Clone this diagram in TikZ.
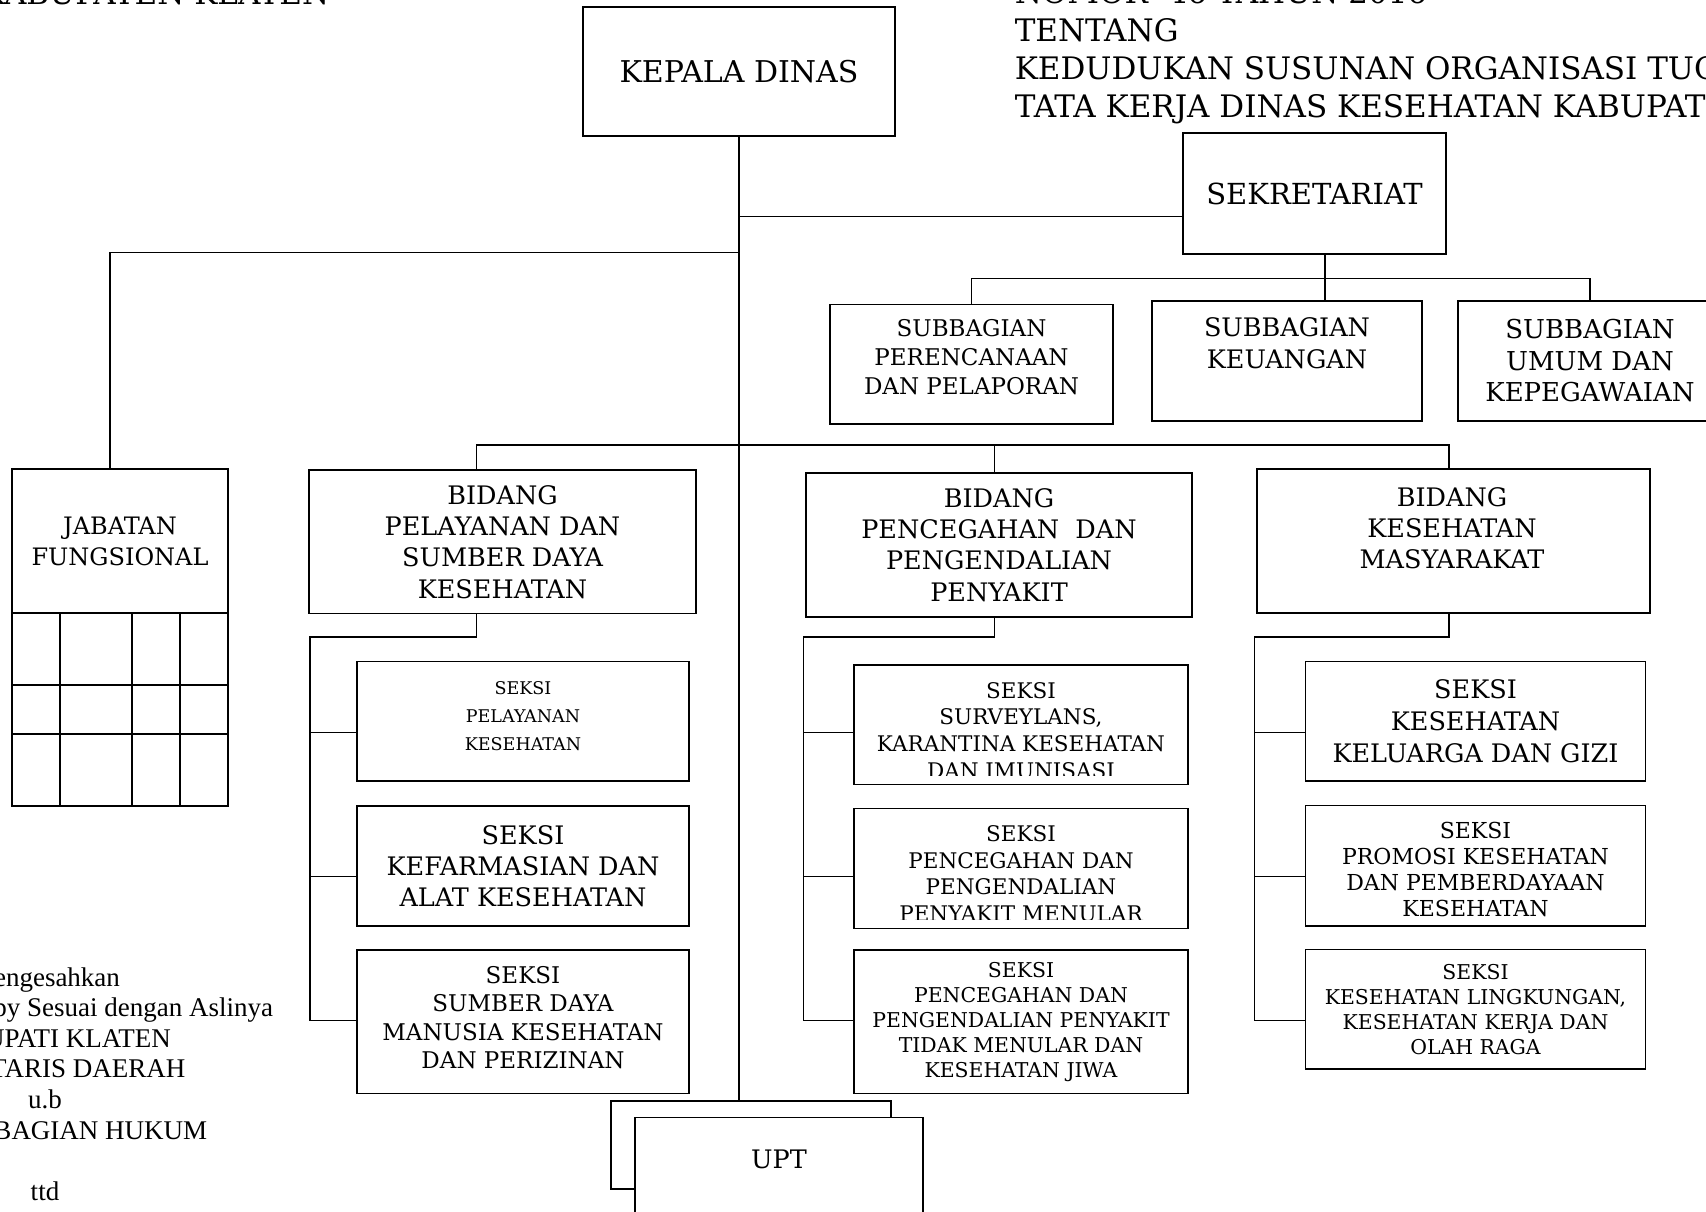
\documentclass[tikz,border=0pt]{standalone}
\usepackage{fontspec}
\setmainfont{DejaVu Serif}
\newfontfamily\notefont{Liberation Serif}
\begin{document}
\begin{tikzpicture}[x=1pt,y=-1pt,line width=1.6pt,
box/.style={draw,fill=white,inner sep=0pt,align=center},
txt/.style={inner sep=0pt,align=center},
hdr/.style={inner sep=0pt,anchor=base west,font=\fontsize{31}{38}\selectfont}]

\useasboundingbox (0,0) rectangle (1706,1211);
\clip (0,0) rectangle (1706,1211);

\node (hd1) at (330,4) [hdr,anchor=base east] {KABUPATEN KLATEN};
\node (hd2) at (1014,3) [hdr] {NOMOR \ 46 TAHUN 2016};
\node (hd3) at (1014,41) [hdr] {TENTANG};
\node (hd4) at (1014,79) [hdr] {KEDUDUKAN SUSUNAN ORGANISASI TUGAS DAN FUNGSI SERTA};
\node (hd5) at (1014,117) [hdr] {TATA KERJA DINAS KESEHATAN KABUPATEN KLATEN};

\node (kd) at (739,71.5) [box,minimum width=312pt,minimum height=129pt,font=\fontsize{30}{36}\selectfont] {KEPALA DINAS};
\node (sek) at (1314.5,193.5) [box,minimum width=263pt,minimum height=120.5pt,font=\fontsize{29}{35}\selectfont] {SEKRETARIAT};

\node (sb1) at (971.5,364.3) [box,minimum width=283pt,minimum height=119.4pt] {};
\node (sb1t) at (971.5,357.3) [txt,font=\fontsize{23}{28.7}\selectfont] {SUBBAGIAN\\PERENCANAAN\\DAN PELAPORAN};
\node (sb2) at (1287,361) [box,minimum width=270pt,minimum height=120pt] {};
\node (sb2t) at (1287,343.3) [txt,font=\fontsize{25.5}{31.5}\selectfont] {SUBBAGIAN\\KEUANGAN};
\node (sb3) at (1590,361) [box,minimum width=264pt,minimum height=120pt,font=\fontsize{26}{31.5}\selectfont] {SUBBAGIAN\\UMUM DAN\\KEPEGAWAIAN};

\node (jf) at (120,541) [box,minimum width=216pt,minimum height=144pt,font=\fontsize{24}{31}\selectfont] {JABATAN\\FUNGSIONAL};
\draw (12,613) rectangle (228,806);
\draw (12,685) -- (228,685);
\draw (12,734) -- (228,734);
\draw (60,613) -- (60,806);
\draw (132,613) -- (132,806);
\draw (180,613) -- (180,806);

\node (b1) at (502.5,541.8) [box,minimum width=387pt,minimum height=143.6pt,font=\fontsize{25.5}{31.3}\selectfont] {BIDANG\\PELAYANAN DAN\\SUMBER DAYA\\KESEHATAN};
\node (b2) at (999,545) [box,minimum width=386pt,minimum height=144pt,font=\fontsize{25.5}{31.3}\selectfont] {BIDANG\\PENCEGAHAN \ DAN\\PENGENDALIAN\\PENYAKIT};
\node (b3) at (1453.5,541) [box,minimum width=393pt,minimum height=144pt] {};
\node (b3t) at (1452,528) [txt,font=\fontsize{25.5}{31}\selectfont] {BIDANG\\KESEHATAN\\MASYARAKAT};

\node (s11) at (523,721.25) [box,minimum width=332pt,minimum height=119.5pt] {};
\node (s11t) at (523,715.8) [txt,font=\fontsize{17.5}{28}\selectfont] {SEKSI\\PELAYANAN\\KESEHATAN};
\node (s12) at (523,866) [box,minimum width=332pt,minimum height=120pt,font=\fontsize{25.5}{31.2}\selectfont] {SEKSI\\KEFARMASIAN DAN\\ALAT KESEHATAN};
\node (s13) at (523,1021.75) [box,minimum width=332pt,minimum height=143.5pt] {};
\node (s13t) at (523,1017.5) [txt,font=\fontsize{23}{28.3}\selectfont] {SEKSI\\SUMBER DAYA\\MANUSIA KESEHATAN\\DAN PERIZINAN};

\node (s21) at (1021,724.75) [box,minimum width=334pt,minimum height=119.5pt] {};
\begin{scope}
\clip (s21.north west) rectangle ([yshift=10pt]s21.south east);
\node (s21t) at (s21.north) [txt,anchor=north,yshift=-17.2pt,font=\fontsize{21.5}{26.7}\selectfont] {SEKSI\\SURVEYLANS,\\KARANTINA KESEHATAN\\DAN IMUNISASI};
\end{scope}
\node (s22) at (1021,868.5) [box,minimum width=334pt,minimum height=120pt] {};
\begin{scope}
\clip (s22.north west) rectangle ([yshift=10pt]s22.south east);
\node (s22t) at (s22.north) [txt,anchor=north,yshift=-17pt,font=\fontsize{21.5}{26.7}\selectfont] {SEKSI\\PENCEGAHAN DAN\\PENGENDALIAN\\PENYAKIT MENULAR};
\end{scope}
\node (s23) at (1021,1021.75) [box,minimum width=334pt,minimum height=143.5pt,font=\fontsize{20.4}{25}\selectfont] {SEKSI\\PENCEGAHAN DAN\\PENGENDALIAN PENYAKIT\\TIDAK MENULAR DAN\\KESEHATAN JIWA};

\node (s31) at (1475.5,721.3) [box,minimum width=340pt,minimum height=119.3pt,font=\fontsize{25.5}{31.7}\selectfont] {SEKSI\\KESEHATAN\\KELUARGA DAN GIZI};
\node (s32) at (1475.5,865.5) [box,minimum width=340pt,minimum height=120.4pt] {};
\begin{scope}
\clip (s32.north west) rectangle ([yshift=10pt]s32.south east);
\node (s32t) at (s32.north) [txt,anchor=north,yshift=-16.7pt,font=\fontsize{22}{26}\selectfont] {SEKSI\\PROMOSI KESEHATAN\\DAN PEMBERDAYAAN\\KESEHATAN};
\end{scope}
\node (s33) at (1475.5,1009.2) [box,minimum width=340pt,minimum height=119.7pt,font=\fontsize{20.4}{25}\selectfont] {SEKSI\\KESEHATAN LINGKUNGAN,\\KESEHATAN KERJA DAN\\OLAH RAGA};

\node (upt0) at (751,1145) [box,minimum width=280pt,minimum height=88pt] {};
\node (upt) at (779,1185) [box,minimum width=288pt,minimum height=135pt] {};
\node (uptt) at (779,1159) [txt,font=\fontsize{25.5}{31}\selectfont] {UPT};

\node (note) at (45,966.6) [txt,anchor=north,font=\notefont\fontsize{27}{30.6}\selectfont] {Mengesahkan\\Salinan/Foto Copy Sesuai dengan Aslinya\\a.n. BUPATI KLATEN\\SEKRETARIS DAERAH\\u.b\\KEPALA BAGIAN HUKUM\\[30.6pt]ttd};

\coordinate (j0) at (739,216.5);
\coordinate (j1) at (739,252.4);
\coordinate (jfc) at (110,252.4);
\coordinate (j2) at (1325,278.5);
\coordinate (d1) at (476.5,445);
\coordinate (d2) at (994.5,445);
\coordinate (d3) at (1449,445);
\coordinate (c1) at (310,637);
\coordinate (c2) at (803.5,637);
\coordinate (c3) at (1254.5,637);
\coordinate (r1) at (0,732.5);
\coordinate (r2) at (0,876.5);
\coordinate (r3) at (0,1020.5);

\draw (kd.south) -- (kd.south |- upt0.north);
\draw (j0) -- (j0 -| sek.west);
\draw (j1) -- (jfc) -- (jfc |- jf.north);

\draw (j2 |- sek.south) -- (j2 |- sb2.north);
\draw (sb1.north) |- (j2) -- (sb3.north |- j2) -- (sb3.north);

\draw (d1 |- b1.north) -- (d1) -- (d3) -- (d3 |- b3.north);
\draw (d2) -- (d2 |- b2.north);

\draw (d1 |- b1.south) |- (c1) -- (c1 |- r3);
\draw (c1 |- r1) -- (r1 -| s11.west);
\draw (c1 |- r2) -- (r2 -| s12.west);
\draw (c1 |- r3) -- (r3 -| s13.west);

\draw (d2 |- b2.south) |- (c2) -- (c2 |- r3);
\draw (c2 |- r1) -- (r1 -| s21.west);
\draw (c2 |- r2) -- (r2 -| s22.west);
\draw (c2 |- r3) -- (r3 -| s23.west);

\draw (d3 |- b3.south) |- (c3) -- (c3 |- r3);
\draw (c3 |- r1) -- (r1 -| s31.west);
\draw (c3 |- r2) -- (r2 -| s32.west);
\draw (c3 |- r3) -- (r3 -| s33.west);

\end{tikzpicture}
\end{document}
